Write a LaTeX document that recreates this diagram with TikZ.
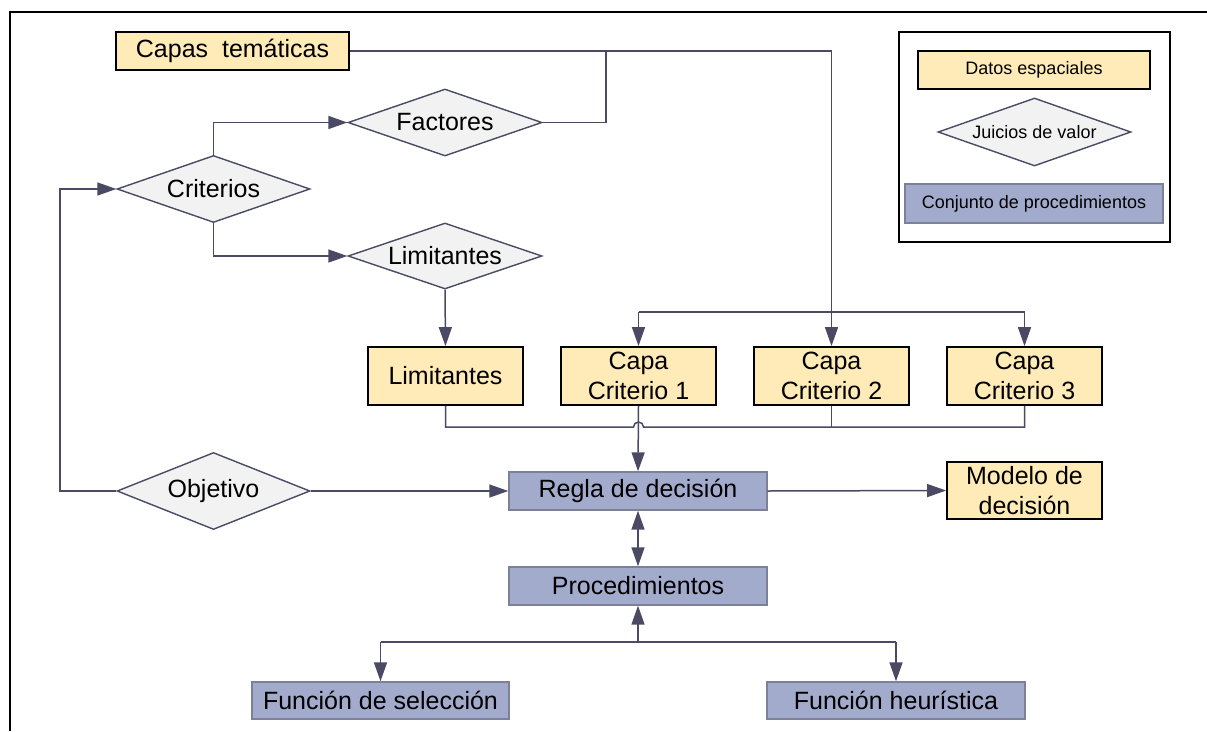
\documentclass[tikz,border=0pt]{standalone}
\usepackage{fontspec}
\setmainfont{Liberation Sans}
\usetikzlibrary{shapes.geometric,arrows.meta}
\definecolor{ln}{HTML}{4A4A64}
\definecolor{yel}{HTML}{FFEBB7}
\definecolor{blu}{HTML}{A3ABCD}
\definecolor{bbord}{HTML}{7C8099}
\definecolor{dgray}{HTML}{F2F2F2}
\begin{document}
\begin{tikzpicture}[x=1pt,y=-1pt,
  base/.style={font=\fontsize{25}{30}\selectfont, inner sep=0pt, align=center},
  small/.style={font=\fontsize{18}{22}\selectfont},
  ybox/.style={base, rectangle, draw=black, line width=1.8pt, fill=yel},
  bbox/.style={base, rectangle, draw=bbord, line width=1.4pt, fill=blu},
  dia/.style={base, diamond, draw=ln, line width=1.4pt, fill=dgray},
  conn/.style={draw=ln, line width=1.5pt},
  arr/.style={conn, -{Triangle[length=19pt,width=13pt]}},
  darr/.style={conn, {Triangle[length=19pt,width=13pt]}-{Triangle[length=19pt,width=13pt]}}]
\useasboundingbox (0,0) rectangle (1207,731);
\draw[line width=1.8pt] (10,731) -- (10,12) -- (1207,12);

% nodes
\node[ybox, minimum width=233, minimum height=38] (capas) at (232.5,51) {Capas\ \ temáticas};
\node[dia, minimum width=194, minimum height=67] (fact) at (445,122.5) {\makebox[0pt]{Factores}};
\node[dia, minimum width=193, minimum height=67] (crit) at (213.5,189) {\makebox[0pt]{Criterios}};
\node[dia, minimum width=194, minimum height=66] (limd) at (445,256) {\makebox[0pt]{Limitantes}};
\node[ybox, minimum width=155, minimum height=58] (limb) at (445.5,376) {Limitantes};
\node[ybox, minimum width=155, minimum height=58] (c1) at (638.5,376) {Capa\\Criterio 1};
\node[ybox, minimum width=155, minimum height=58] (c2) at (831.5,376) {Capa\\Criterio 2};
\node[ybox, minimum width=155, minimum height=58] (c3) at (1024.5,376) {Capa\\Criterio 3};
\node[dia, minimum width=193, minimum height=77] (obj) at (213.5,491) {\makebox[0pt]{Objetivo}};
\node[bbox, minimum width=258, minimum height=38] (regla) at (638,491) {Regla de decisión};
\node[ybox, minimum width=155, minimum height=57] (modelo) at (1024.5,490.5) {Modelo de\\decisión};
\node[bbox, minimum width=258, minimum height=38] (proc) at (638,586) {Procedimientos};
\node[bbox, minimum width=257, minimum height=37] (fs) at (380.5,700.5) {Función de selección};
\node[bbox, minimum width=258, minimum height=37] (fh) at (896,700.5) {Función heurística};

% legend
\node[draw=black, line width=1.8pt, minimum width=271, minimum height=210, inner sep=0pt] (leg) at (1034.5,137) {};
\node[ybox, small, minimum width=232, minimum height=38] (ld) at (1034,70) {Datos espaciales};
\node[dia, small, minimum width=193, minimum height=68] (lj) at (1034.5,132) {\makebox[0pt]{Juicios de valor}};
\node[bbox, small, minimum width=258, minimum height=39] (lc) at (1034,203.5) {Conjunto de procedimientos};

% helper coordinates
\coordinate (j1) at (606,51);
\coordinate (dtop) at (0,312);
\coordinate (cb) at (0,427);
\coordinate (lx) at (60,0);
\coordinate (pb) at (0,642);

% connectors
\draw[arr] (capas.east) -| (c2.north);
\draw[conn] (fact.east) -| (j1);
\draw[conn] (c1.north |- dtop) -- (c3.north |- dtop);
\draw[arr] (c1.north |- dtop) -- (c1.north);
\draw[arr] (c3.north |- dtop) -- (c3.north);
\draw[arr] (crit.north) |- (fact.west);
\draw[arr] (crit.south) |- (limd.west);
\draw[arr] (limd.south) -- (limb.north);
\draw[conn] (limb.south) -- (limb.south |- cb) -- ([xshift=-5pt]c1.south |- cb)
  arc[start angle=180, end angle=0, radius=5pt] -- (c3.south |- cb) -- (c3.south);
\draw[conn] (c2.south) -- (c2.south |- cb);
\draw[arr] (c1.south) -- (regla.north);
\draw[arr] (obj.west) -- (obj.west -| lx) |- (crit.west);
\draw[arr] (obj.east) -- (regla.west);
\draw[arr] (regla.east) -- (modelo.west);
\draw[darr] (regla.south) -- (proc.north);
\draw[conn] (fs.north |- pb) -- (fh.north |- pb);
\draw[arr] (proc.south |- pb) -- (proc.south);
\draw[arr] (fs.north |- pb) -- (fs.north);
\draw[arr] (fh.north |- pb) -- (fh.north);
\end{tikzpicture}
\end{document}
